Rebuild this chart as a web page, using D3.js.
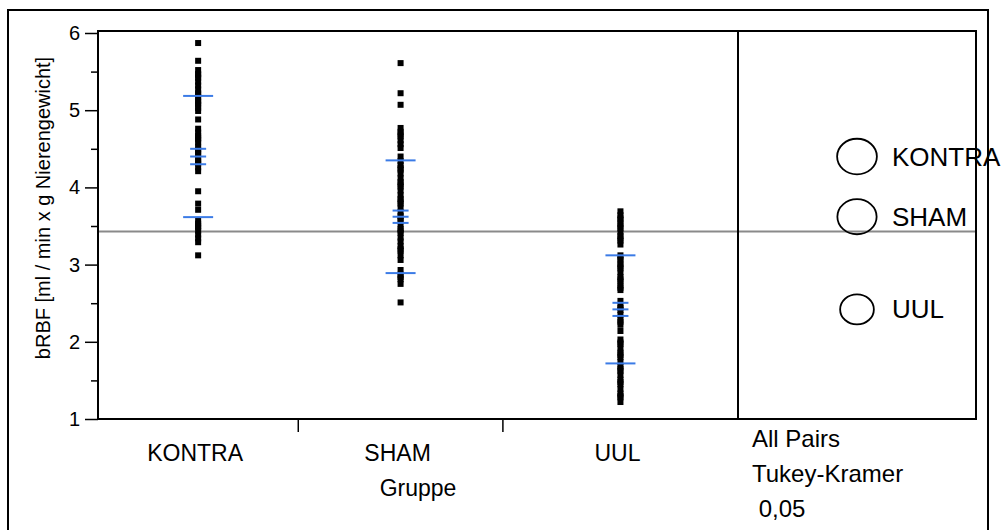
<!DOCTYPE html>
<html>
<head>
<meta charset="utf-8">
<script src="https://cdn.jsdelivr.net/npm/d3@7"></script>
<style>
  body { margin: 0; background: #fff; }
  text { font-family: "Liberation Sans", Arial, sans-serif; fill: #000; }
</style>
</head>
<body>
<script>
// Data (bRBF per group)
const groups = ['KONTRA', 'SHAM', 'UUL']

const kontra = [5.87, 5.64,
  5.52, 5.47, 5.45, 5.42, 5.37, 5.32, 5.27, 5.22, 5.20, 5.17, 5.12, 5.10, 5.07, 5.03, 4.99,
  4.88,
  4.76, 4.71, 4.67, 4.64, 4.62, 4.58, 4.53, 4.49, 4.47, 4.44, 4.40, 4.35, 4.33, 4.31, 4.26, 4.21,
  3.95, 3.79, 3.71,
  3.57, 3.53, 3.50, 3.48, 3.44, 3.39, 3.34, 3.29,
  3.12]

const sham = [5.61, 5.22, 5.07,
  4.77, 4.72, 4.69, 4.66, 4.61, 4.56, 4.51,
  4.40, 4.34, 4.29, 4.25, 4.23, 4.18, 4.12, 4.07, 4.04, 4.01, 3.96, 3.90, 3.85, 3.82, 3.79,
  3.74, 3.68, 3.63, 3.60, 3.57, 3.52, 3.46, 3.44, 3.41, 3.35, 3.30, 3.24, 3.20, 3.18, 3.12, 3.06,
  2.93, 2.87, 2.84, 2.81, 2.75,
  2.51]

const uul = [3.69, 3.64, 3.60, 3.58, 3.53, 3.50, 3.47, 3.42, 3.37, 3.34, 3.31, 3.26,
  3.12, 3.09, 3.06, 3.01, 2.98, 2.95, 2.90, 2.84, 2.81, 2.78, 2.73, 2.70, 2.67,
  2.53, 2.47, 2.44, 2.41, 2.35, 2.29, 2.26, 2.22, 2.14,
  2.03, 1.99, 1.97, 1.91, 1.86, 1.83, 1.80, 1.74, 1.68, 1.65, 1.62, 1.57, 1.51, 1.48,
  1.45, 1.39, 1.33, 1.30, 1.28, 1.22]

const values = [kontra, sham, uul]

// mean, std dev and confidence half-width (blue marks), comparison circle radius
const means = [4.40, 3.62, 2.42]
const stdDevs = [0.785, 0.73, 0.70]
const ciHalf = [0.10, 0.08, 0.085]
const circleRadius = [0.23, 0.227, 0.195]
const grandMean = 3.43

const yTicks = [1, 2, 3, 4, 5, 6]
const yMinorTicks = [1.5, 2.5, 3.5, 4.5, 5.5]
const yTitle = 'bRBF [ml / min x g Nierengewicht]'
const xTitle = 'Gruppe'
const testLabels = ['All Pairs', 'Tukey-Kramer', ' 0,05']

// -----------------------------------------------------------------------------

const width = 1003
const height = 530

const plotLeft = 98
const plotTop = 31
const plotBottom = 419
const divider = 738
const plotRight = 976

const svg = d3.select('body').append('svg')
  .attr('width', width)
  .attr('height', height)

// outer frame (runs off the bottom of the picture)
svg.append('rect')
  .attr('x', 8).attr('y', 10)
  .attr('width', 980).attr('height', 560)
  .attr('fill', 'none')
  .attr('stroke', '#000')
  .attr('stroke-width', 2)

const y = d3.scaleLinear().domain([1, 6]).range([plotBottom, 33])

// x widths proportional to group size, as JMP does
const counts = values.map(v => v.length)
const cum = [0].concat(Array.from(d3.cumsum(counts)))
const x = d3.scaleLinear().domain([0, d3.sum(counts)]).range([plotLeft, divider])
const center = i => x(cum[i] + counts[i] / 2)

// grand mean line
svg.append('line')
  .attr('x1', plotLeft).attr('x2', plotRight)
  .attr('y1', y(grandMean)).attr('y2', y(grandMean))
  .attr('stroke', '#8a8a8a')
  .attr('stroke-width', 2)

// points
values.forEach((vals, i) => {
  svg.append('g').selectAll('rect')
    .data(vals).enter()
    .append('rect')
    .attr('x', center(i) - 3)
    .attr('y', d => y(d) - 3)
    .attr('width', 6)
    .attr('height', 6)
    .attr('fill', '#000')
})

// mean / std dev / ci marks
const blue = '#3b7be6'
means.forEach((m, i) => {
  const cx = center(i)
  const marks = [
    {v: m + stdDevs[i], w: 15},
    {v: m - stdDevs[i], w: 15},
    {v: m, w: 8},
    {v: m + ciHalf[i], w: 8},
    {v: m - ciHalf[i], w: 8}
  ]
  svg.append('g').selectAll('line')
    .data(marks).enter()
    .append('line')
    .attr('x1', d => cx - d.w).attr('x2', d => cx + d.w)
    .attr('y1', d => y(d.v)).attr('y2', d => y(d.v))
    .attr('stroke', blue)
    .attr('stroke-width', 2)
})

// plot box and divider
svg.append('rect')
  .attr('x', plotLeft).attr('y', plotTop)
  .attr('width', plotRight - plotLeft).attr('height', plotBottom - plotTop)
  .attr('fill', 'none')
  .attr('stroke', '#000')
  .attr('stroke-width', 2)

svg.append('line')
  .attr('x1', divider).attr('x2', divider)
  .attr('y1', plotTop).attr('y2', plotBottom)
  .attr('stroke', '#000')
  .attr('stroke-width', 2)

// y axis
const yAxis = svg.append('g')
  .attr('transform', 'translate(' + plotLeft + ',0)')
  .call(d3.axisLeft(y).tickValues(yTicks).tickSize(13).tickPadding(5).tickFormat(d3.format('d')))
yAxis.select('.domain').remove()
yAxis.selectAll('line').attr('stroke-width', 1.5)
yAxis.selectAll('text')
  .attr('font-size', 20)
  .attr('font-family', '"Liberation Sans", Arial, sans-serif')

const yMinor = svg.append('g')
  .attr('transform', 'translate(' + plotLeft + ',0)')
  .call(d3.axisLeft(y).tickValues(yMinorTicks).tickSize(7).tickFormat(''))
yMinor.select('.domain').remove()
yMinor.selectAll('line').attr('stroke-width', 1.5)

svg.append('text')
  .attr('transform', 'translate(43,208) rotate(-90)')
  .attr('text-anchor', 'middle')
  .attr('dominant-baseline', 'central')
  .attr('font-size', 20)
  .text(yTitle)

// x axis: group boundaries and labels
svg.append('g').selectAll('line')
  .data(cum.slice(1, groups.length)).enter()
  .append('line')
  .attr('x1', d => x(d)).attr('x2', d => x(d))
  .attr('y1', plotBottom).attr('y2', plotBottom + 13)
  .attr('stroke', '#000')
  .attr('stroke-width', 1.5)

svg.append('g').selectAll('text')
  .data(groups).enter()
  .append('text')
  .attr('x', (d, i) => center(i) - 3)
  .attr('y', 461)
  .attr('text-anchor', 'middle')
  .attr('font-size', 23)
  .text(d => d)

svg.append('text')
  .attr('x', (plotLeft + divider) / 2)
  .attr('y', 496)
  .attr('text-anchor', 'middle')
  .attr('font-size', 23)
  .text(xTitle)

svg.append('g').selectAll('text')
  .data(testLabels).enter()
  .append('text')
  .attr('x', 752)
  .attr('y', (d, i) => 447 + i * 35)
  .attr('font-size', 24)
  .attr('xml:space', 'preserve')
  .style('white-space', 'pre')
  .text(d => d)

// comparison circles
const circleX = (divider + plotRight) / 2
const circles = svg.append('g').selectAll('g')
  .data(groups).enter()
  .append('g')

circles.append('ellipse')
  .attr('cx', circleX)
  .attr('cy', (d, i) => y(means[i]))
  .attr('ry', (d, i) => y(means[i] - circleRadius[i]) - y(means[i]))
  .attr('rx', (d, i) => (y(means[i] - circleRadius[i]) - y(means[i])) * 1.12)
  .attr('fill', 'none')
  .attr('stroke', '#000')
  .attr('stroke-width', 1.8)

circles.append('text')
  .attr('x', circleX + 35)
  .attr('y', (d, i) => y(means[i]))
  .attr('dominant-baseline', 'central')
  .attr('font-size', 26)
  .text(d => d)
</script>
</body>
</html>
